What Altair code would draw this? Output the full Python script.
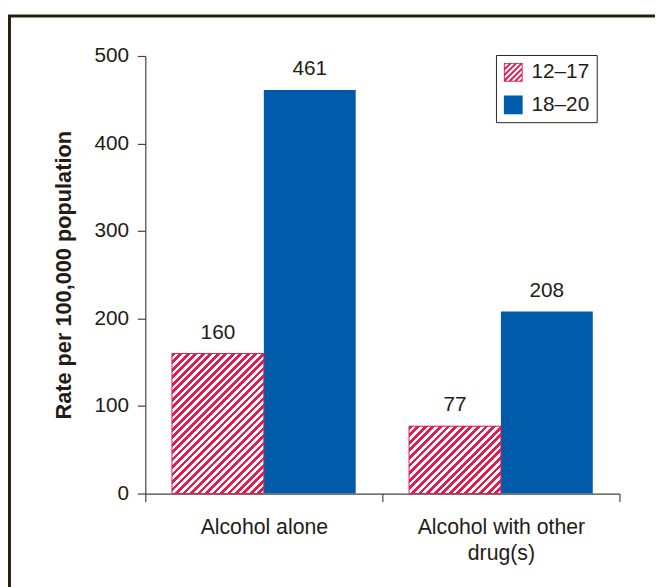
import altair as alt
import pandas as pd

# ---- data ----
categories = ["Alcohol alone", "Alcohol with other drug(s)"]
age_groups = ["12–17", "18–20"]
rates_12_17 = [160, 77]
rates_18_20 = [461, 208]
y_ticks = [0, 100, 200, 300, 400, 500]

RED = "#E31C4F"
BLUE = "#005BAA"
TEXT = "#231c14"
AXIS = "#4a4236"
FONT = "Liberation Sans"

rows = []
for i, c in enumerate(categories):
    rows.append({"category": c, "group": age_groups[0], "rate": rates_12_17[i]})
    rows.append({"category": c, "group": age_groups[1], "rate": rates_18_20[i]})
df = pd.DataFrame(rows)

W, H = 480, 443
YMAX = 500
STEP = W / 2          # one category band, ticks on its edges
BAR_W = 93            # width of one bar
XO_PAD = (STEP / BAR_W - 2) / 2   # outer padding of the offset scale (step units)


def hatch(w, h, period):
    """Diagonal '/' stripes made from a hard-stop linear gradient (bbox units)."""
    s = w + h
    n = max(1, round(s / period))
    d = w * w + h * h
    stops = []
    for i in range(n):
        a, m, b = i / n, (i + 0.5) / n, (i + 1) / n
        stops += [
            {"offset": a, "color": RED},
            {"offset": m, "color": RED},
            {"offset": m, "color": "#ffffff"},
            {"offset": b, "color": "#ffffff"},
        ]
    return {"gradient": "linear", "x1": 0, "y1": 0,
            "x2": w * s / d, "y2": h * s / d, "stops": stops}


def _clip(poly, f):
    out = []
    n = len(poly)
    for i in range(n):
        p, q = poly[i], poly[(i + 1) % n]
        fp, fq = f(p), f(q)
        if fp >= 0:
            out.append(p)
        if (fp >= 0) != (fq >= 0):
            t = fp / (fp - fq)
            out.append((p[0] + t * (q[0] - p[0]), p[1] + t * (q[1] - p[1])))
    return out


def hatch_symbol(period=0.6, ring=0.1):
    """Custom legend symbol path (unit square -1..1): thin frame + '/' stripes."""
    sq = [(-1, -1), (1, -1), (1, 1), (-1, 1)]
    parts = ["M-1,-1L1,-1L1,1L-1,1Z",
             f"M{-1+ring},{-1+ring}L{-1+ring},{1-ring}L{1-ring},{1-ring}L{1-ring},{-1+ring}Z"]
    c = -2.0
    while c < 2.0:
        c0, c1 = c, c + period / 2
        poly = _clip(sq, lambda p: p[0] + p[1] - c0)
        poly = _clip(poly, lambda p: c1 - (p[0] + p[1]))
        if len(poly) >= 3:
            parts.append("M" + "L".join(f"{x:.3f},{y:.3f}" for x, y in poly) + "Z")
        c += period
    return "".join(parts)


x_enc = alt.X("category:N", sort=categories,
              scale=alt.Scale(paddingInner=0, paddingOuter=0),
              axis=alt.Axis(title=None, labelAngle=0, tickBand="extent",
                            tickSize=8, labelPadding=15, labelLimit=300,
                            labelFontSize=21.5,
                            labelExpr="datum.value == 'Alcohol with other drug(s)' ? ['Alcohol with other', 'drug(s)'] : datum.value",
                            labelLineHeight=27))
xo_enc = alt.XOffset("group:N", sort=age_groups,
                     scale=alt.Scale(paddingInner=0, paddingOuter=XO_PAD))
y_enc = alt.Y("rate:Q", scale=alt.Scale(domain=[0, YMAX], nice=False),
              axis=alt.Axis(values=y_ticks, grid=False, tickSize=8, labelPadding=9,
                            labelFontSize=21,
                            title="Rate per 100,000 population", titleFontSize=22,
                            titleFontWeight="bold", titlePadding=19))

color_scale = alt.Scale(domain=age_groups, range=[RED, BLUE])
legend_props = dict(title=None, orient="none", legendX=355, legendY=-1,
                    symbolSize=361, padding=7, labelOffset=8, rowPadding=11,
                    strokeColor="#2b2418", fillColor="#ffffff",
                    labelFontSize=21, labelFont=FONT, labelColor=TEXT)

bars = alt.Chart(df).mark_bar().encode(
    x=x_enc, xOffset=xo_enc, y=y_enc,
    color=alt.Color("group:N", sort=age_groups, scale=color_scale,
                    legend=alt.Legend(**legend_props)),
)

conds = [{"test": f"datum.category === '{c}'",
          "value": hatch(BAR_W, v * H / YMAX, 7.5)}
         for c, v in zip(categories, rates_12_17)]

hatched = alt.Chart(df).transform_filter(
    alt.datum.group == age_groups[0]
).mark_bar(stroke=RED, strokeWidth=1).encode(
    x=x_enc, xOffset=xo_enc, y=y_enc,
    fill=alt.value(RED, condition=conds),
)

labels = alt.Chart(df).mark_text(
    baseline="alphabetic", dy=-15, fontSize=21, font=FONT, color=TEXT
).encode(x=x_enc, xOffset=xo_enc, y=y_enc, text=alt.Text("rate:Q"))

# legend-only layer (no marks drawn: data filtered out; scales have explicit domains)
legend_layer = alt.Chart(df).transform_filter("false").mark_point(
    filled=True, opacity=1, size=361, strokeWidth=0
).encode(
    x=x_enc, y=y_enc,
    color=alt.Color("group:N", sort=age_groups, scale=color_scale,
                    legend=alt.Legend(**legend_props)),
    shape=alt.Shape("group:N", sort=age_groups,
                    scale=alt.Scale(domain=age_groups, range=[hatch_symbol(), "square"]),
                    legend=alt.Legend(**legend_props)),
)

frame = alt.Chart(alt.Data(values=[{"k": 1}])).mark_rect(
    fillOpacity=0, stroke="#2a2010", strokeWidth=3
).encode(x=alt.value(-137.5), x2=alt.value(700), y=alt.value(-40.5), y2=alt.value(700))


def build(layers, title=None):
    kw = {}
    if title is not None:
        kw["title"] = title
    return alt.layer(*layers).properties(
        width=W, height=H,
        autosize=alt.AutoSizeParams(type="none"),
        padding={"left": 139, "top": 45, "right": 36, "bottom": 91},
        background="#ffffff", **kw
    ).configure_view(strokeWidth=0).configure_axis(
        labelFont=FONT, titleFont=FONT, labelColor=TEXT,
        titleColor=TEXT, domainColor=AXIS, tickColor=AXIS, domainWidth=1.2, tickWidth=1.2,
    )


chart = build([frame, bars, hatched, labels, legend_layer])
try:
    chart.to_dict()
except Exception as e:  # debugging fallback
    msg = [ln[:90] for ln in str(e).split("\n") if ln.strip()][:5]
    chart = build([frame, bars, labels], title=msg)

chart.save("out.html", embed_options={"renderer": "svg", "actions": False})
